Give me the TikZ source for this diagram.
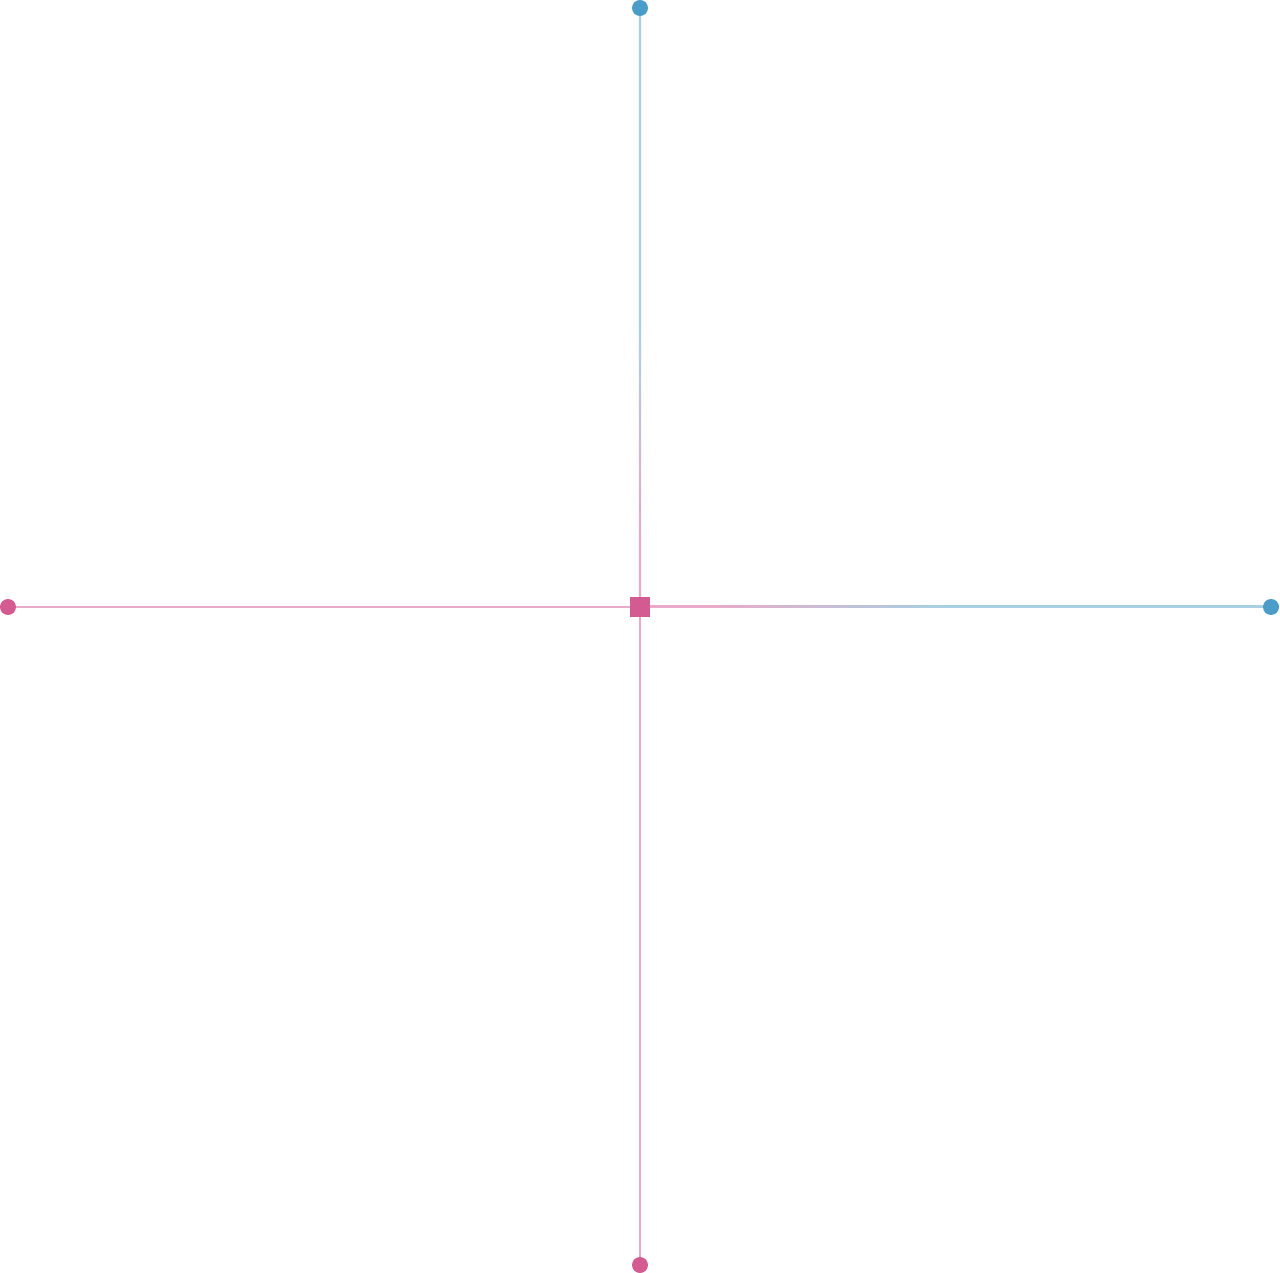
\documentclass[tikz,border=0pt]{standalone}
\usepackage{tikz}
\usetikzlibrary{calc, positioning}
\definecolor{HubPink}{HTML}{D35B92}
\definecolor{TipBlue}{HTML}{4B9CC9}
\definecolor{LinkPink}{HTML}{E9ABC9}
\definecolor{LinkBlue}{HTML}{A8D0E2}
% fade from pink (hub side) to blue (tip side)
\pgfdeclareverticalshading{fadeup}{100bp}{color(0bp)=(LinkPink); color(31bp)=(LinkPink); color(49bp)=(LinkBlue); color(100bp)=(LinkBlue)}
\pgfdeclarehorizontalshading{faderight}{100bp}{color(0bp)=(LinkPink); color(31bp)=(LinkPink); color(49bp)=(LinkBlue); color(100bp)=(LinkBlue)}

\begin{document}
\begin{tikzpicture}[
    pinkdot/.style={circle, fill=HubPink, inner sep=0pt, minimum size=0.32cm},
    bluedot/.style={circle, fill=TipBlue, inner sep=0pt, minimum size=0.32cm},
    hubsq/.style={rectangle, fill=HubPink, inner sep=0pt, minimum size=0.4cm},
    pinklink/.style={LinkPink, line width=1.1pt}
  ]
  \useasboundingbox (-12.8,-13.32) rectangle (12.8,12.14);

  % hub and the four tips
  \coordinate (hubpt) at (0,0);
  \coordinate (northpt) at (0,11.98);
  \coordinate (southpt) at (0,-13.16);
  \coordinate (westpt) at (-12.64,0);
  \coordinate (eastpt) at (12.62,0);

  % plain pink links
  \draw[pinklink] (hubpt) -- (westpt);
  \draw[pinklink] (hubpt) -- (southpt);

  % faded links, pink to blue
  \shade[shading=fadeup] ($(hubpt)+(-0.02,0)$) rectangle ($(northpt)+(0.02,0)$);
  \shade[shading=faderight] ($(hubpt)+(0,-0.02)$) rectangle ($(eastpt)+(0,0.02)$);

  % end points
  \node[bluedot] (north) at (northpt) {};
  \node[bluedot] (east) at (eastpt) {};
  \node[pinkdot] (west) at (westpt) {};
  \node[pinkdot] (south) at (southpt) {};
  \node[hubsq] (hub) at (hubpt) {};
\end{tikzpicture}
\end{document}
